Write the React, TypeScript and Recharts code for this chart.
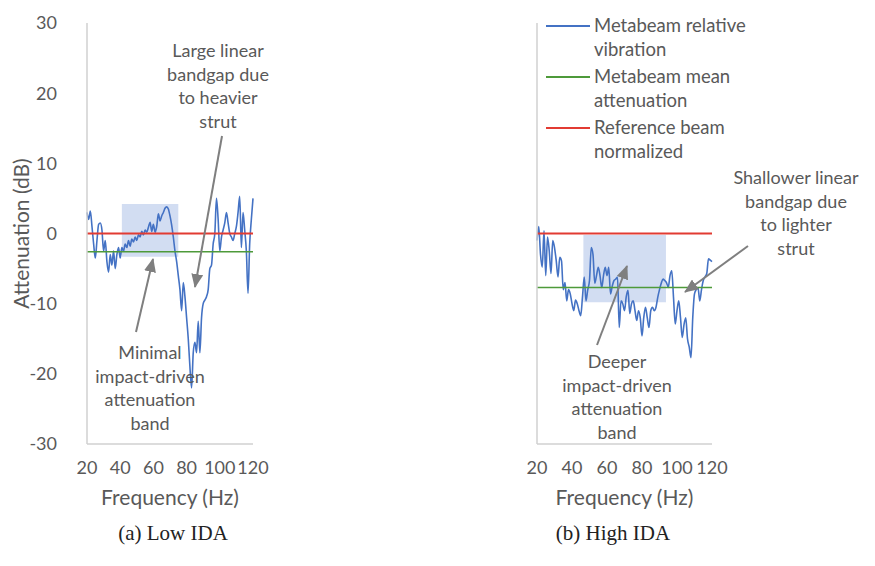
import React from "react";
import { LineChart, Line, XAxis, YAxis, ReferenceLine, ReferenceArea, Legend } from "recharts";

// frequency axis, 1 Hz steps
const freq = [
  20, 21, 22, 23, 24, 25, 26, 27, 28, 29, 30, 31, 32, 33, 34, 35, 36, 37, 38, 39,
  40, 41, 42, 43, 44, 45, 46, 47, 48, 49, 50, 51, 52, 53, 54, 55, 56, 57, 58, 59,
  60, 61, 62, 63, 64, 65, 66, 67, 68, 69, 70, 71, 72, 73, 74, 75, 76, 77, 78, 79,
  80, 81, 82, 83, 84, 85, 86, 87, 88, 89, 90, 91, 92, 93, 94, 95, 96, 97, 98, 99,
  100, 101, 102, 103, 104, 105, 106, 107, 108, 109, 110, 111, 112, 113, 114, 115, 116, 117, 118, 119, 120,
];

// (a) Low IDA - metabeam relative vibration (dB)
const lowIda = [
  3, 2, 3.2, 1, -1.5, -3.5, -1, 1.3, 1.5, 0.5, -2.5, -1, -4, -5.5, -3, -4.5, -2.5, -5, -3, -2,
  -3.5, -2, -2.5, -1.5, -2, -1, -1.8, -0.8, -1.2, -0.5, -1, -0.2, -0.5, 0.3, -0.2, 0.5, 0.2, 0.9, 1.6, 0.3,
  1.3, 0.2, 1.0, 2.8, 1.8, 2.5, 3.0, 3.6, 3.8, 3.5, 2.5, 1.2, -0.5, -2.5, -4, -6, -8, -11, -7, -9,
  -12, -15, -19, -22, -17, -15.5, -17, -12.5, -17, -12, -10, -9.5, -9, -8, -5, -4.5, -1.5, 0, 5, 2,
  -2.5, -0.5, 0.5, 1.5, 3, 1.5, 0, -0.5, -1, 0, 1, 3, 5.3, -2, 3, 0.5, -2.5, -8.5, -1.5, 2, 5,
];

// (b) High IDA - metabeam relative vibration (dB)
const highIda = [
  -1, 1, -3, -4.8, 0.4, -6, -0.5, -2.5, -5.7, -1, -2, -3.9, -6.2, -3.4, -3.9, -8, -7, -9.6, -8, -8.6,
  -10, -11, -9.5, -10, -11, -11.7, -9, -6.2, -9.6, -8, -6.7, -2, -3, -7.1, -6, -4.8, -6, -7.7, -6, -4.8,
  -6, -4.8, -8.6, -7.5, -6.7, -6.5, -6.2, -13.4, -9.6, -10, -11, -9, -8.1, -11.4, -10, -9.6, -11, -12.4, -11, -12,
  -14.6, -12, -10.5, -12, -13.4, -11, -10.5, -11, -10.5, -9.1, -8, -7.1, -6.5, -6.7, -7, -7.7, -6, -5.3, -9.1, -12.9,
  -11, -9.6, -12, -14.8, -13, -12, -15, -16.2, -17.7, -12, -8.6, -8, -7.7, -9.6, -8, -6.7, -6.2, -5.7, -3.6, -3.8, -4,
];

const lowMean = -2.6;
const highMean = -7.7;
const refLevel = 0;

// shaded impact-driven bands [f1, f2, dB low, dB high]
const lowBand = [41, 75, -3.3, 4.2];
const highBand = [46.5, 93.7, -9.8, -0.2];

const xTicks = [20, 40, 60, 80, 100, 120];
const yTicks = [-30, -20, -10, 0, 10, 20, 30];

const legendItems = [
  { name: "Metabeam relative vibration", color: "#4472c4" },
  { name: "Metabeam mean attenuation", color: "#4e9a3a" },
  { name: "Reference beam normalized", color: "#e23b32" },
];

const FONT = "Lato, 'Open Sans', sans-serif";
const TEXT = "#595959";
const AXIS = "#d0d0d0";
const BLUE = "#4472c4";
const GREEN = "#4e9a3a";
const RED = "#e23b32";
const GREY = "#7f7f7f";

const tickStyle = { fontSize: 18, fill: TEXT, fontFamily: FONT };
const titleStyle = { fontSize: 21, fill: TEXT, fontFamily: FONT };

function YTitle({ viewBox }: any) {
  const cx = 20;
  const cy = viewBox.y + viewBox.height / 2;
  return (
    <text x={cx} y={cy} transform={`rotate(-90 ${cx} ${cy})`} textAnchor="middle"
      dominantBaseline="central" style={titleStyle}>
      Attenuation (dB)
    </text>
  );
}

function XTitle({ viewBox }: any) {
  const cx = viewBox.x + viewBox.width / 2;
  return (
    <text x={cx} y={496} textAnchor="middle" dominantBaseline="central" style={titleStyle}>
      Frequency (Hz)
    </text>
  );
}

function LegendBox() {
  return (
    <div style={{ fontFamily: FONT, fontSize: 18.5, color: TEXT, lineHeight: "23.5px", textAlign: "left" }}>
      {legendItems.map((it) => (
        <div key={it.name} style={{ display: "flex", marginBottom: 4 }}>
          <div style={{ width: 44, height: 2, background: it.color, marginTop: 11, marginRight: 4, flex: "none" }} />
          <div style={{ width: 172 }}>{it.name}</div>
        </div>
      ))}
    </div>
  );
}

interface PanelProps {
  left: number;
  width: number;
  right: number;
  values: number[];
  mean: number;
  band: number[];
  yLabels: boolean;
  legend?: boolean;
}

function Panel({ left, width, right, values, mean, band, yLabels, legend }: PanelProps) {
  const data = freq.map((f, i) => ({ f, v: values[i] }));
  return (
    <div style={{ position: "absolute", left, top: 0 }}>
      <LineChart width={width} height={566} data={data} margin={{ top: 23, right, left: 0, bottom: 67 }}>
        <XAxis dataKey="f" type="number" domain={[20, 120]} ticks={xTicks} tickLine={false}
          axisLine={{ stroke: AXIS, strokeWidth: 1.5 }} tick={tickStyle} tickMargin={11} height={55}
          interval={0} label={<XTitle />} />
        <YAxis type="number" domain={[-30, 30]} ticks={yTicks} width={87} tickLine={false}
          axisLine={{ stroke: AXIS, strokeWidth: 1.5 }} tick={yLabels ? tickStyle : false} tickMargin={24}
          interval={0}
          label={yLabels ? <YTitle /> : undefined} />
        <ReferenceArea x1={band[0]} x2={band[1]} y1={band[2]} y2={band[3]} fill="#c3d2ee"
          fillOpacity={0.75} stroke="none" />
        <Line dataKey="v" type="monotone" stroke={BLUE} strokeWidth={1.6} dot={false}
          isAnimationActive={false} />
        <ReferenceLine y={mean} stroke={GREEN} strokeWidth={1.6} />
        <ReferenceLine y={refLevel} stroke={RED} strokeWidth={2} />
        {legend && (
          <Legend content={<LegendBox />} layout="horizontal" verticalAlign="middle" align="center"
            wrapperStyle={{ top: 14, left: 96, width: 230 }} />
        )}
      </LineChart>
    </div>
  );
}

const annStyle = { fontSize: 18, fill: TEXT, fontFamily: FONT };

function Note({ x, y, lines }: { x: number; y: number; lines: string[] }) {
  return (
    <>
      {lines.map((t, i) => (
        <text key={t} x={x} y={y + i * 23.5} textAnchor="middle" dominantBaseline="central" style={annStyle}>
          {t}
        </text>
      ))}
    </>
  );
}

const captionStyle = { fontSize: 21, fill: "#222", fontFamily: "'Liberation Serif', 'Times New Roman', serif" };

export default function App() {
  return (
    <div style={{ position: "absolute", left: 0, top: 0, width: 875, height: 566, background: "#fff" }}>
      <Panel left={0} width={440} right={187} values={lowIda} mean={lowMean} band={lowBand} yLabels />
      <Panel left={450} width={425} right={163} values={highIda} mean={highMean} band={highBand}
        yLabels={false} legend />
      <svg width={875} height={566} style={{ position: "absolute", left: 0, top: 0, pointerEvents: "none" }}>
        <defs>
          <marker id="ah" markerUnits="userSpaceOnUse" markerWidth={14} markerHeight={12} refX={13} refY={6}
            orient="auto">
            <path d="M0,0 L14,6 L0,12 z" fill={GREY} />
          </marker>
        </defs>
        <line x1={136} y1={332} x2={153} y2={259} stroke={GREY} strokeWidth={2} markerEnd="url(#ah)" />
        <line x1={222} y1={136} x2={195} y2={287} stroke={GREY} strokeWidth={2} markerEnd="url(#ah)" />
        <line x1={597} y1={345} x2={627} y2={266} stroke={GREY} strokeWidth={2} markerEnd="url(#ah)" />
        <line x1={748} y1={246} x2={685} y2={292} stroke={GREY} strokeWidth={2} markerEnd="url(#ah)" />
        <Note x={218} y={50} lines={["Large linear", "bandgap due", "to heavier", "strut"]} />
        <Note x={150} y={352} lines={["Minimal", "impact-driven", "attenuation", "band"]} />
        <Note x={617} y={361} lines={["Deeper", "impact-driven", "attenuation", "band"]} />
        <Note x={796} y={177} lines={["Shallower linear", "bandgap due", "to lighter", "strut"]} />
        <text x={173} y={533} textAnchor="middle" dominantBaseline="central" style={captionStyle}>
          (a) Low IDA
        </text>
        <text x={613} y={533} textAnchor="middle" dominantBaseline="central" style={captionStyle}>
          (b) High IDA
        </text>
      </svg>
    </div>
  );
}
